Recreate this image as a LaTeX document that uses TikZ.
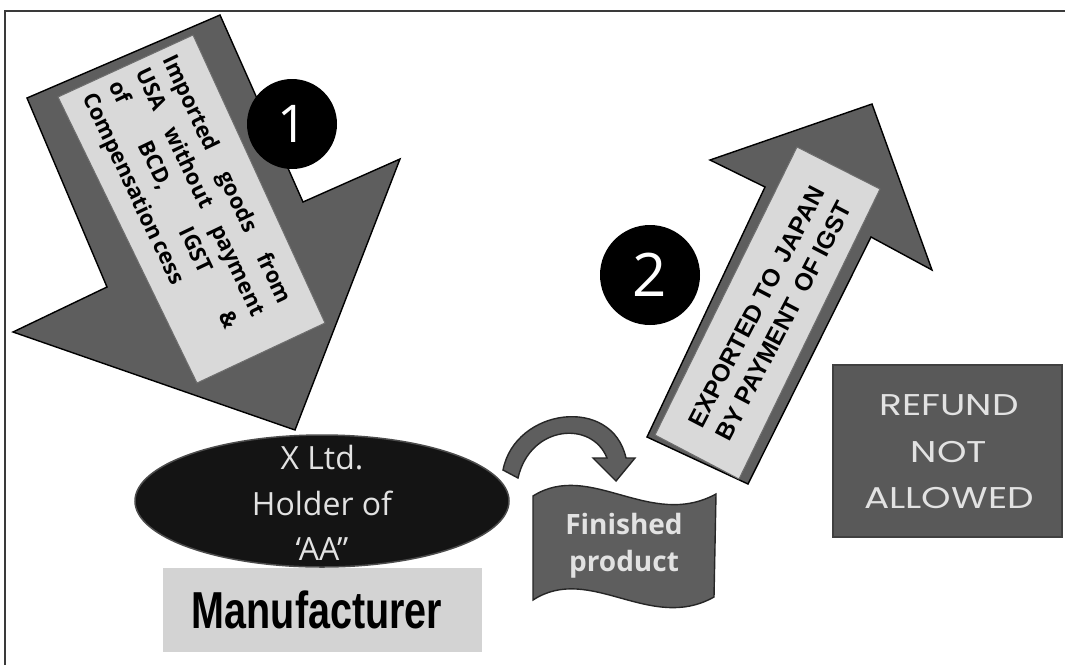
\documentclass[tikz,border=0pt]{standalone}
\usepackage{fontspec}
\usetikzlibrary{shapes.geometric}
\setmainfont{Open Sans}
\newfontfamily\arialf{Liberation Sans}
\newfontfamily\popf{Poppins}
\definecolor{shapegrey}{HTML}{5E5E5E}
\definecolor{labelgrey}{HTML}{D9D9D9}
\definecolor{labeledge}{HTML}{6E6E6E}
\definecolor{textlight}{HTML}{E2E2E2}
\definecolor{mangrey}{HTML}{D3D3D3}
\definecolor{ellfill}{HTML}{141414}
\definecolor{framegrey}{HTML}{3A3A3A}
\begin{document}
\begin{tikzpicture}[x=1pt,y=-1pt,
  bigarrow/.style={fill=shapegrey, draw=black, line width=1.4pt, line join=miter},
  labelbox/.style={fill=labelgrey, draw=labeledge, line width=1pt},
  numdisc/.style={circle, fill=black, inner sep=0pt, text=white},
  lightshape/.style={fill=shapegrey, draw=black!85, line width=1.4pt}]
\useasboundingbox (0,0) rectangle (1065,665);
\fill[white] (0,0) rectangle (1065,665);
% frame
\draw[framegrey, line width=1.6pt] (5,665) -- (5,11) -- (1066,11);

% arrow 1 (import)
\draw[bigarrow] (220,15) -- (303,202) -- (400,159) -- (295,430) -- (13,332) -- (107,287) -- (27,98) -- cycle;
\draw[labelbox] (58,97) -- (193,35) -- (325,323) -- (197,383) -- cycle;
\node[rotate=-64.5, text width=272pt, align=left, font=\bfseries\fontsize{22}{29.5}\selectfont, inner sep=0pt] (imptext) at (186,199)
 {Imported\hfill goods\hfill from\\
  USA\hfill without\hfill payment\\
  of\hfill BCD,\hfill IGST\hfill \&\\
  Compensation\,cess};
\node[numdisc, minimum size=90pt, font=\fontsize{52}{52}\selectfont] (one) at (292,124) {1};

% curved arrow
\draw[lightshape] (503,470) .. controls (515,408) and (612,395) .. (626,458)
  -- (635,458) -- (616,481) -- (593,458) -- (607,458)
  .. controls (592,420) and (530,425) .. (518,478) -- cycle;

% ellipse
\node[ellipse, fill=ellfill, draw=black!70, line width=1.5pt, minimum width=374pt, minimum height=132pt, inner sep=0pt] (xltd) at (322,501) {};
\node[text=textlight, align=center, font=\fontsize{32}{45.5}\selectfont] (xltdtext) at (322,503) {X Ltd.\\Holder of\\‘AA”};

% manufacturer
\node[fill=mangrey, minimum width=319pt, minimum height=84pt, inner sep=0pt] (manu) at (322.5,610) {};
\node[font=\arialf\bfseries\fontsize{52}{52}\selectfont, inner sep=0pt] (manutext) at (317,610) {\scalebox{0.76}[1]{Manufacturer}};

% finished product
\draw[lightshape] (533,496) .. controls (590,460) and (650,530) .. (716,494)
  -- (714,597) .. controls (650,633) and (590,563) .. (533,600) -- cycle;
\node[text=textlight, align=center, font=\bfseries\fontsize{28}{37}\selectfont] (fp) at (624,546) {Finished\\product};

% arrow 2 (export)
\draw[bigarrow] (647,437) -- (765,187) -- (710,160) -- (872,104) -- (932,270) -- (871,237) -- (748,484) -- cycle;
\draw[labelbox] (655,435) -- (797,147) -- (880,189) -- (739,479) -- cycle;
\node[rotate=62.5, align=center, font=\arialf\bfseries\fontsize{24.5}{31}\selectfont, inner sep=0pt] (exptext) at (770,314)
 {EXPORTED TO\, JAPAN\\BY PAYMENT\, OF IGST};
\node[numdisc, minimum size=100pt, font=\fontsize{60}{60}\selectfont] (two) at (650,275) {2};

% refund box
\node[fill=shapegrey!95!black, draw=black!75, line width=1.8pt, minimum width=229pt, minimum height=172pt, inner sep=0pt] (refund) at (947.5,451) {};
\node[text=textlight, align=center, font=\popf\fontsize{30}{46.5}\selectfont] (refundtext) at (949,452) {\scalebox{1.25}[1]{REFUND}\\\scalebox{1.25}[1]{NOT}\\\scalebox{1.25}[1]{ALLOWED}};
\end{tikzpicture}
\end{document}
